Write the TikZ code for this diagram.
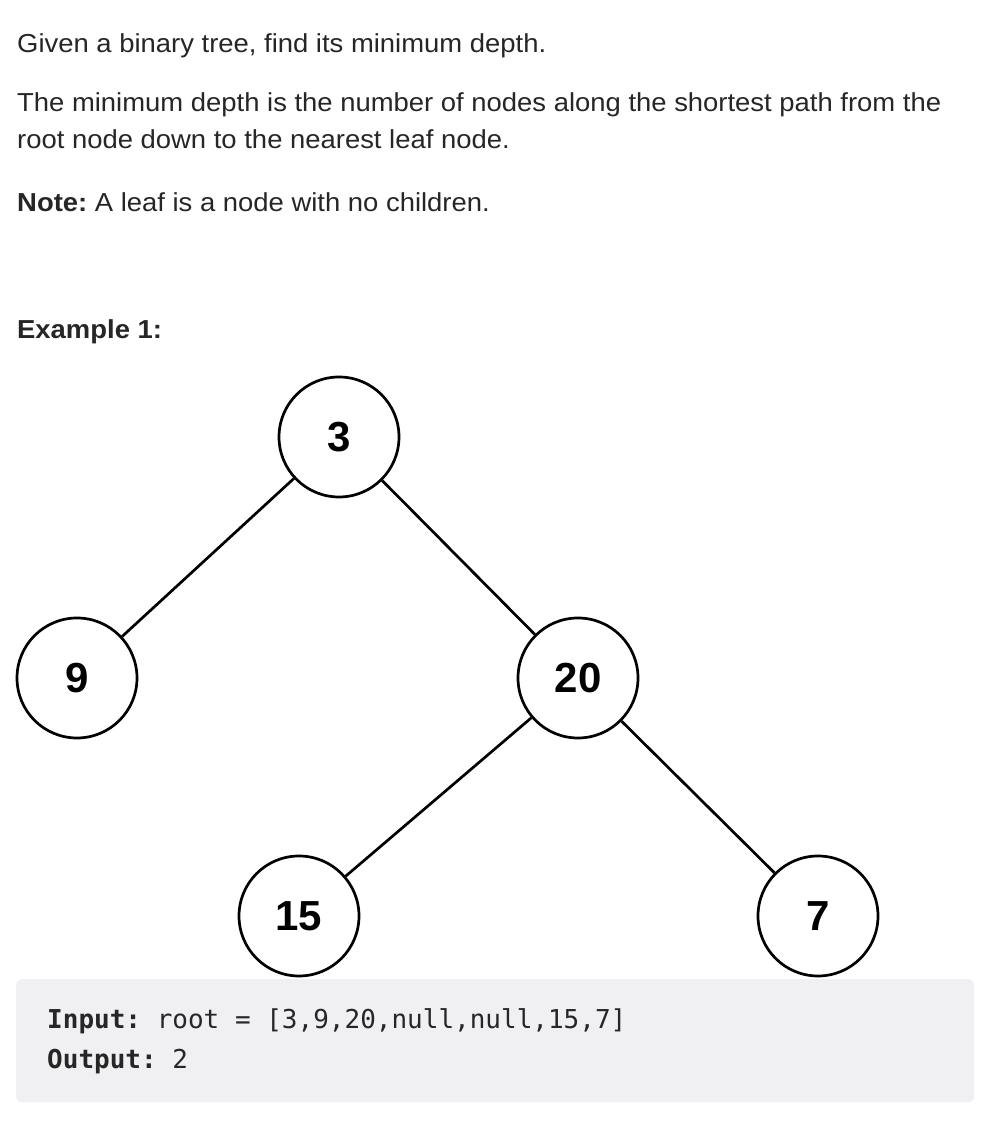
\documentclass[tikz,border=0pt]{standalone}
\usepackage{fontspec}
\setmainfont{Liberation Sans}[FakeStretch=1.055]
\newfontfamily\treefont{Liberation Sans}
\newfontfamily\codefont{DejaVu Sans Mono}
\definecolor{txt}{RGB}{38,38,38}
\definecolor{codebg}{RGB}{240,240,242}
\frenchspacing
\tikzset{
  body/.style={anchor=base west, inner sep=0pt, text=txt, font=\fontsize{26}{37}\selectfont\frenchspacing},
  code/.style={anchor=base west, inner sep=0pt, text=txt, font=\codefont\fontsize{26}{40}\selectfont\frenchspacing},
  tnode/.style={circle, draw=black, line width=2.7pt, minimum size=120pt, inner sep=0pt, font=\treefont\bfseries\fontsize{42}{42}\selectfont},
  tedge/.style={draw=black, line width=2.7pt}
}
\begin{document}
\begin{tikzpicture}[x=1pt,y=1pt]
\useasboundingbox[fill=white] (0,0) rectangle (992,1126);
% text
\node[body] (l1) at (17,1126-53) {Given a binary tree, find its minimum depth.};
\node[body] (l2) at (17,1126-112) {The minimum depth is the number of nodes along the shortest path from the};
\node[body] (l3) at (17,1126-149) {root node down to the nearest leaf node.};
\node[body] (l4) at (17,1126-212) {\textbf{Note:} A leaf is a node with no children.};
\node[body] (l5) at (17,1126-339) {\textbf{Example 1:}};
% tree
\node[tnode] (n3) at (339,1126-437) {3};
\node[tnode] (n9) at (77,1126-678) {9};
\node[tnode] (n20) at (578,1126-678) {20};
\node[tnode] (n15) at (299,1126-916) {15};
\node[tnode] (n7) at (818,1126-916) {7};
\draw[tedge] (n3) -- (n9);
\draw[tedge] (n3) -- (n20);
\draw[tedge] (n20) -- (n15);
\draw[tedge] (n20) -- (n7);
% code box
\node[fill=codebg, rounded corners=6pt, minimum width=958pt, minimum height=123pt, anchor=north west, inner sep=0pt] (box) at (16,1126-979) {};
\node[code] (c1) at (47,1126-1029) {\textbf{Input:} root = [3,9,20,null,null,15,7]};
\node[code] (c2) at (47,1126-1069) {\textbf{Output:} 2};
\end{tikzpicture}
\end{document}
